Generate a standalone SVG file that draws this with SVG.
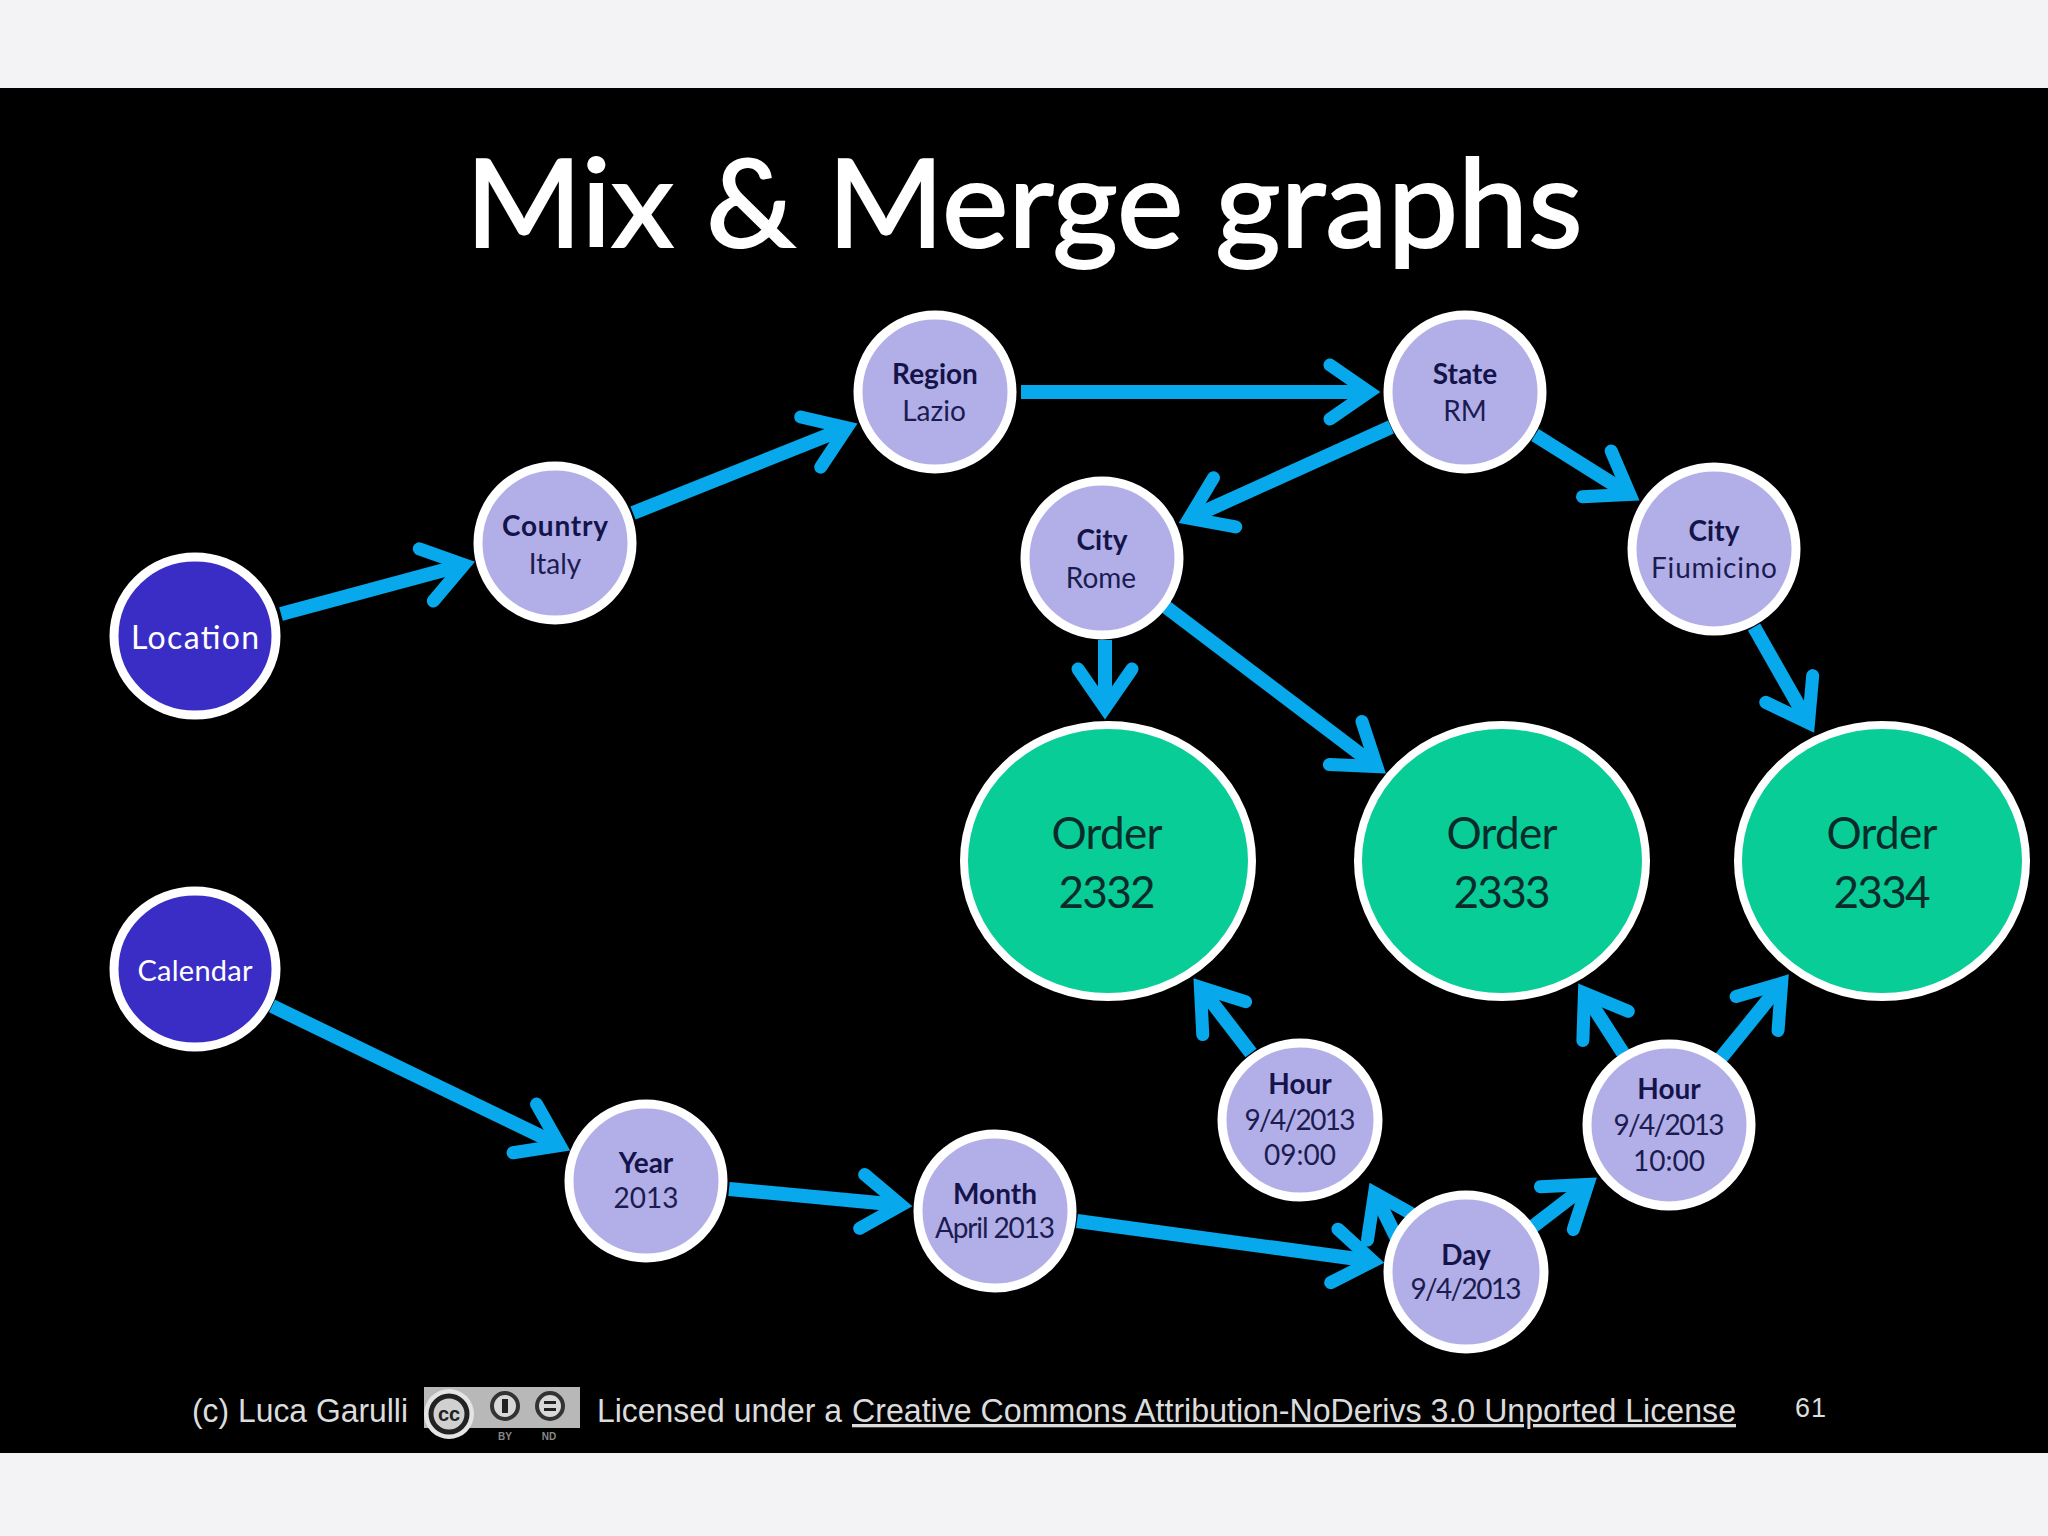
<svg xmlns="http://www.w3.org/2000/svg" width="2048" height="1536" viewBox="0 0 2048 1536">
<style>
text{font-family:"Lato","Noto Sans",sans-serif;text-anchor:middle}
.node{fill:#b2afe8;stroke:#fff;stroke-width:9}
.root{fill:#3a2dc6;stroke:#fff;stroke-width:9}
.order{fill:#08cd96;stroke:#fff;stroke-width:8}
.b{font-weight:700;font-size:28px;fill:#14144a}
.r{font-size:28px;fill:#1c1c50}
.w{font-size:32px;fill:#fff}
.o{font-size:44px;fill:#0b2b2b}
.c{stroke:#07a9ec;stroke-width:14;fill:none;marker-end:url(#a)}
.f{font-family:"Liberation Sans",Arial,sans-serif;font-size:33px;fill:#dcdcdc;text-anchor:start}
</style>
<defs>
<marker id="a" markerUnits="userSpaceOnUse" markerWidth="90" markerHeight="90" viewBox="-60 -45 90 90" refX="0" refY="0" orient="auto" overflow="visible">
<path d="M-38,-27 L1,0 L-38,27" fill="none" stroke="#07a9ec" stroke-width="13" stroke-linecap="round" stroke-linejoin="miter" stroke-miterlimit="10"/>
</marker>
</defs>
<rect width="2048" height="1536" fill="#f3f3f5"/>
<rect y="88" width="2048" height="1365" fill="#000"/>
<text id="title" x="1024" y="247" font-size="122" fill="#fff" stroke="#fff" stroke-width="2" textLength="1117" lengthAdjust="spacingAndGlyphs">Mix &amp; Merge graphs</text>
<g id="connectors">
<line class="c" x1="281" y1="614" x2="463" y2="565"/>
<line class="c" x1="633" y1="513" x2="846" y2="428"/>
<line class="c" x1="1021" y1="392" x2="1368" y2="392"/>
<line class="c" x1="1391" y1="427" x2="1190" y2="518"/>
<line class="c" x1="1535" y1="435" x2="1629" y2="494"/>
<line class="c" x1="1105" y1="640" x2="1105" y2="707"/>
<line class="c" x1="1166" y1="607" x2="1376" y2="766"/>
<line class="c" x1="1754" y1="627" x2="1808" y2="722"/>
<line class="c" x1="272" y1="1006" x2="559" y2="1145"/>
<line class="c" x1="729" y1="1189" x2="900" y2="1205"/>
<line class="c" x1="1077" y1="1221" x2="1372" y2="1261"/>
<line class="c" x1="1400" y1="1245" x2="1375" y2="1194"/>
<line class="c" x1="1531" y1="1228" x2="1587" y2="1185"/>
<line class="c" x1="1251" y1="1053" x2="1201" y2="988"/>
<line class="c" x1="1623" y1="1053" x2="1585" y2="994"/>
<line class="c" x1="1721" y1="1058" x2="1781" y2="984"/>
</g>
<g id="location"><ellipse class="root" cx="195" cy="636" rx="81" ry="79"/><text class="w" x="195" y="649" textLength="128">Location</text></g>
<g id="calendar"><ellipse class="root" cx="195" cy="969" rx="81" ry="78"/><text class="w" x="195" y="981" style="font-size:29px" textLength="115">Calendar</text></g>
<g id="country"><circle class="node" cx="555" cy="543" r="77"/><text class="b" x="555" y="536" textLength="106">Country</text><text class="r" x="555" y="574">Italy</text></g>
<g id="region"><circle class="node" cx="935" cy="392" r="77"/><text class="b" x="935" y="384">Region</text><text class="r" x="934" y="421">Lazio</text></g>
<g id="state"><circle class="node" cx="1465" cy="392" r="77"/><text class="b" x="1465" y="384">State</text><text class="r" x="1465" y="421">RM</text></g>
<g id="city-rome"><circle class="node" cx="1102" cy="558" r="77"/><text class="b" x="1102" y="550">City</text><text class="r" x="1101" y="588">Rome</text></g>
<g id="city-fiumicino"><circle class="node" cx="1714" cy="549" r="82"/><text class="b" x="1714" y="541">City</text><text class="r" x="1714" y="578" textLength="126">Fiumicino</text></g>
<g id="order-2332"><ellipse class="order" cx="1108" cy="861" rx="144" ry="136"/><text class="o" x="1107" y="849" textLength="111">Order</text><text class="o" x="1107" y="908" textLength="97">2332</text></g>
<g id="order-2333"><ellipse class="order" cx="1502" cy="861" rx="144" ry="136"/><text class="o" x="1502" y="849" textLength="111">Order</text><text class="o" x="1502" y="908" textLength="97">2333</text></g>
<g id="order-2334"><ellipse class="order" cx="1882" cy="861" rx="144" ry="136"/><text class="o" x="1882" y="849" textLength="111">Order</text><text class="o" x="1882" y="908" textLength="97">2334</text></g>
<g id="year"><circle class="node" cx="646" cy="1181" r="77"/><text class="b" x="646" y="1173">Year</text><text class="r" x="646" y="1208">2013</text></g>
<g id="month"><circle class="node" cx="995" cy="1211" r="77"/><text class="b" x="995" y="1204">Month</text><text class="r" x="995" y="1238" textLength="120">April 2013</text></g>
<g id="hour-0900"><ellipse class="node" cx="1300" cy="1120" rx="78" ry="77"/><text class="b" x="1300" y="1094">Hour</text><text class="r" x="1300" y="1130" textLength="111">9/4/2013</text><text class="r" x="1300" y="1165">09:00</text></g>
<g id="hour-1000"><ellipse class="node" cx="1669" cy="1125" rx="82" ry="81"/><text class="b" x="1669" y="1099">Hour</text><text class="r" x="1669" y="1135" textLength="111">9/4/2013</text><text class="r" x="1669" y="1171">10:00</text></g>
<g id="day"><ellipse class="node" cx="1466" cy="1272" rx="78" ry="77"/><text class="b" x="1466" y="1265">Day</text><text class="r" x="1466" y="1299" textLength="111">9/4/2013</text></g>
<g id="footer">
<text class="f" x="192" y="1422" textLength="216" lengthAdjust="spacingAndGlyphs">(c) Luca Garulli</text>
<rect x="424" y="1387" width="156" height="41" fill="#b8b8b8"/>
<circle cx="449" cy="1414" r="25" fill="#e4e4e4"/>
<circle cx="449" cy="1414" r="18" fill="#d0d0d0" stroke="#222" stroke-width="5"/>
<text x="449" y="1421" style="font-size:20px;font-weight:700;fill:#222;font-family:'Liberation Sans',sans-serif">cc</text>
<circle cx="505" cy="1406" r="13" fill="#d8d8d8" stroke="#333" stroke-width="4"/>
<rect x="502" y="1399" width="6" height="14" fill="#222"/>
<circle cx="550" cy="1406" r="13" fill="#d8d8d8" stroke="#333" stroke-width="4"/>
<rect x="544" y="1401" width="12" height="3" fill="#222"/><rect x="544" y="1408" width="12" height="3" fill="#222"/>
<text x="505" y="1440" style="font-size:10px;font-weight:700;fill:#888;font-family:'Liberation Sans',sans-serif">BY</text>
<text x="549" y="1440" style="font-size:10px;font-weight:700;fill:#888;font-family:'Liberation Sans',sans-serif">ND</text>
<text class="f" x="597" y="1422" textLength="245" lengthAdjust="spacingAndGlyphs">Licensed under a</text>
<text class="f" x="852" y="1422" textLength="884" lengthAdjust="spacingAndGlyphs" text-decoration="underline">Creative Commons Attribution-NoDerivs 3.0 Unported License</text>
<text class="f" x="1795" y="1417" style="font-size:27px" textLength="31">61</text>
</g>
</svg>
